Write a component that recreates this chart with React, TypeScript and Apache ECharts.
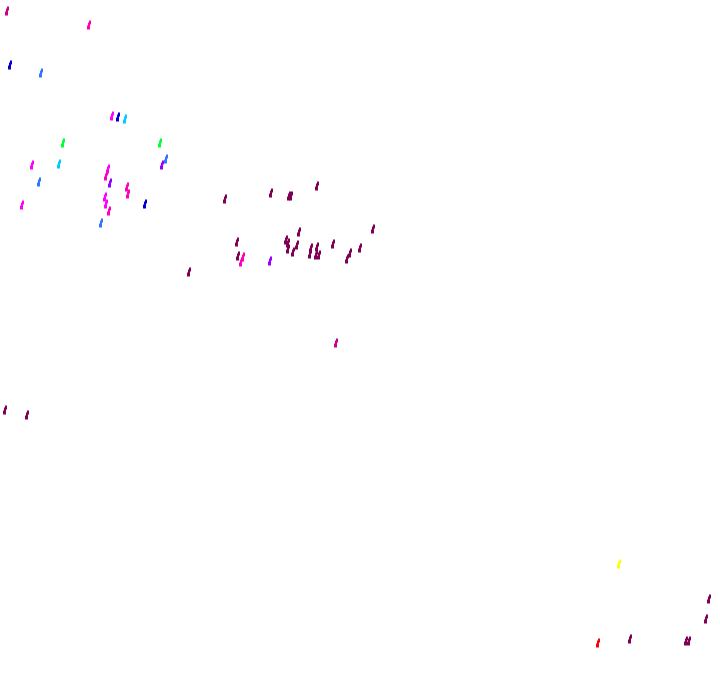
import React, { useEffect, useRef } from "react";
import * as echarts from "echarts";

// Colour scale (index -> colour), used by the visualMap
const palette = [
  "#ff0000", "#ffff00", "#00ff33", "#00ccff", "#3377ff", "#0000cc",
  "#9900ff", "#ff00ff", "#ff00bb", "#cc0088", "#800055",
];

// Point x positions, y positions and colour values
const xs = [
  7, 89, 10, 41, 112, 118, 125,
  63, 160, 166, 162, 32, 59, 108, 106, 110, 39, 127, 128, 105, 106, 109, 145, 22, 101,
  225, 271, 289, 291, 317, 237, 299, 373, 286, 288, 288, 297, 293, 311, 310, 317, 316, 319, 333, 350, 347, 360, 238, 189,
  243, 241, 270,
  336, 5, 27, 619, 709, 706, 630, 686, 689, 598,
];
const ys = [
  11, 25, 65, 73, 116, 117, 119,
  143, 143, 159, 165, 165, 164, 169, 176, 183, 182, 187, 194, 197, 204, 211, 204, 205, 223,
  199, 193, 196, 196, 186, 242, 232, 229, 240, 243, 249, 245, 252, 248, 254, 247, 255, 255, 244, 253, 259, 248, 256, 272,
  257, 262, 261,
  343, 410, 415, 564, 599, 619, 639, 641, 641, 643,
];
const values = [
  9, 8, 5, 4, 7, 5, 3,
  2, 2, 4, 6, 7, 3, 7, 8, 6, 4, 8, 8, 7, 7, 8, 5, 7, 4,
  10, 10, 10, 10, 10, 10, 10, 10, 10, 10, 10, 10, 10, 10, 10, 10, 10, 10, 10, 10, 10, 10, 10, 10,
  8, 8, 6,
  9, 10, 10, 1, 10, 10, 10, 10, 10, 0,
];

export default function App() {
  const ref = useRef<HTMLDivElement>(null);
  useEffect(() => {
    const chart = echarts.init(ref.current!, null, { renderer: "svg" });
    const data = xs.map((x, i) => [x, ys[i], values[i]]);
    chart.setOption({
      animation: false,
      backgroundColor: "#ffffff",
      grid: { left: 0, right: 0, top: 0, bottom: 0 },
      xAxis: { type: "value", min: 0, max: 720, show: false },
      yAxis: { type: "value", min: 0, max: 692, inverse: true, show: false },
      visualMap: {
        show: false,
        type: "continuous",
        dimension: 2,
        min: 0,
        max: 10,
        inRange: { color: palette },
      },
      series: [
        {
          type: "scatter",
          symbol: "path://M2,0 L4,0 L4,4 L3,4 L3,9 L0,9 L0,5 L1,5 L1,2 L2,2 Z",
          symbolSize: [4, 9],
          data,
          itemStyle: { opacity: 1 },
        },
      ],
    });
    return () => chart.dispose();
  }, []);
  return (
    <div
      ref={ref}
      style={{ position: "fixed", left: 0, top: 0, width: 720, height: 692 }}
    />
  );
}
